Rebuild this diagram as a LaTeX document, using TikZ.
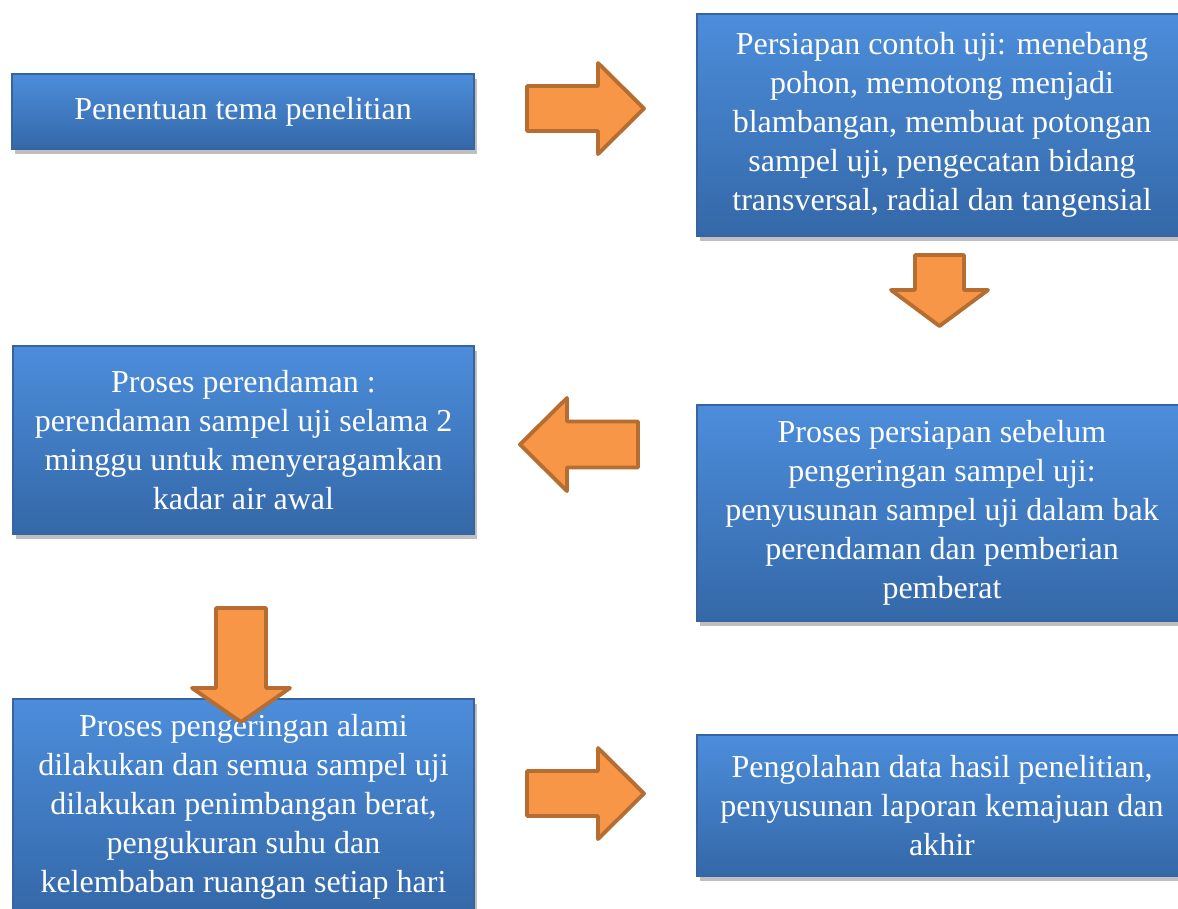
\documentclass[tikz,border=0pt]{standalone}
\usepackage{fontspec}
\setmainfont{Liberation Serif}
\usetikzlibrary{shadows}
\definecolor{boxtop}{RGB}{76,141,219}
\definecolor{boxbottom}{RGB}{52,104,168}
\definecolor{boxedge}{RGB}{55,100,160}
\definecolor{arrowfill}{RGB}{247,150,70}
\definecolor{arrowedge}{RGB}{182,109,49}
\tikzset{
    stagebox/.style={draw=boxedge, line width=0.3pt,
                     top color=boxtop, bottom color=boxbottom,
                     drop shadow={shadow xshift=0.03cm, shadow yshift=-0.05cm,
                                  fill=black, opacity=0.25},
                     text=white, align=center, inner sep=0pt,
                     font=\fontsize{9.1}{11.1}\selectfont},
    blockarrow/.style={draw=arrowedge, fill=arrowfill, line width=1.1pt,
                       line join=round},
}
% block arrow pointing along angle #2: centre, angle, length, head, width, shaft
\newcommand{\blockarrow}[6]{%
  \begin{scope}[shift={#1}, rotate=#2]
    \draw[blockarrow] ({-#3/2},{-#6/2}) -- ({#3/2-#4},{-#6/2})
        -- ({#3/2-#4},{-#5/2}) -- ({#3/2},0) -- ({#3/2-#4},{#5/2})
        -- ({#3/2-#4},{#6/2}) -- ({-#3/2},{#6/2}) -- cycle;
  \end{scope}}

\begin{document}
\begin{tikzpicture}
    \useasboundingbox (0,0) rectangle (11.78,-9.08);

    \node[stagebox, minimum width=4.62cm, minimum height=0.75cm]
        (tema) at (2.43,-1.115) {Penentuan tema penelitian};
    \node[stagebox, minimum width=4.9cm, minimum height=2.22cm]
        (contoh) at (9.42,-1.25) {Persiapan contoh uji: menebang\\
        pohon, memotong menjadi\\ blambangan, membuat potongan\\
        sampel uji, pengecatan bidang\\ transversal, radial dan tangensial};
    \node[stagebox, minimum width=4.9cm, minimum height=2.16cm]
        (sebelum) at (9.42,-5.13) {Proses persiapan sebelum\\
        pengeringan sampel uji:\\ penyusunan sampel uji dalam bak\\
        perendaman dan pemberian\\ pemberat};
    \node[stagebox, minimum width=4.61cm, minimum height=1.88cm]
        (rendam) at (2.435,-4.40) {Proses perendaman :\\
        perendaman sampel uji selama 2\\ minggu untuk menyeragamkan\\
        kadar air awal};
    \node[stagebox, minimum width=4.61cm, minimum height=2.16cm]
        (kering) at (2.435,-8.07) {Proses pengeringan alami\\
        dilakukan dan semua sampel uji\\ dilakukan penimbangan berat,\\
        pengukuran suhu dan\\ kelembaban ruangan setiap hari};
    \node[stagebox, minimum width=4.9cm, minimum height=1.41cm]
        (olah) at (9.42,-8.055) {Pengolahan data hasil penelitian,\\
        penyusunan laporan kemajuan dan\\ akhir};

    % block arrows between the stages
    \blockarrow{(5.855,-1.085)}{0}{1.17}{0.46}{0.91}{0.45}
    \blockarrow{(9.395,-2.905)}{-90}{0.71}{0.36}{0.97}{0.49}
    \blockarrow{(5.79,-4.445)}{180}{1.18}{0.47}{0.93}{0.46}
    \blockarrow{(2.41,-6.65)}{-90}{1.14}{0.34}{0.98}{0.50}
    \blockarrow{(5.855,-7.935)}{0}{1.17}{0.46}{0.91}{0.45}
\end{tikzpicture}
\end{document}
